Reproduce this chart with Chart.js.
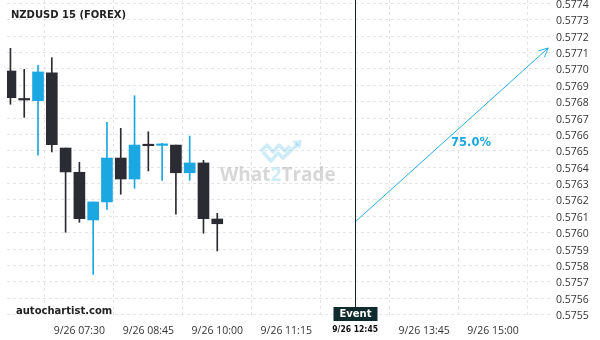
<!DOCTYPE html>
<html>
<head>
<meta charset="utf-8">
<script src="https://cdn.jsdelivr.net/npm/chart.js@4.4.1/dist/chart.umd.min.js"></script>
<style>
  html, body { margin: 0; padding: 0; background: #fff; }
  #wrap { width: 600px; height: 340px; position: relative; }
</style>
</head>
<body>
<div id="wrap"><canvas id="chart"></canvas></div>
<script>
// NZDUSD 15 min candles (index 0 = 9/26 06:15)
const opens  = [0.576987, 0.576810, 0.576806, 0.576975, 0.576517, 0.576369, 0.576078, 0.576188,
                0.576456, 0.576328, 0.576531, 0.576533, 0.576535, 0.576366, 0.576426, 0.576084];
const highs  = [0.577125, 0.576997, 0.577022, 0.577068, 0.576517, 0.576430, 0.576188, 0.576674,
                0.576637, 0.576836, 0.576616, 0.576546, 0.576535, 0.576590, 0.576442, 0.576119];
const lows   = [0.576784, 0.576704, 0.576473, 0.576493, 0.576003, 0.576064, 0.575746, 0.576143,
                0.576235, 0.576271, 0.576377, 0.576320, 0.576114, 0.576320, 0.575997, 0.575889];
const closes = [0.576824, 0.576810, 0.576981, 0.576537, 0.576371, 0.576086, 0.576188, 0.576456,
                0.576328, 0.576535, 0.576531, 0.576533, 0.576366, 0.576426, 0.576086, 0.576055];
// doji colours can't be told from open/close, so keep the direction too
const bullish = [false, false, true, false, false, false, true, true,
                 false, true, false, true, false, true, false, false];

// forecast arrow (event candle -> target)
const arrowIdx = [25, 39];
const arrowVal = [0.576066, 0.577127];
const eventIdx = 25;
const probability = '75.0%';

// axes
const xTickIdx = [5, 10, 15, 20, 25, 30, 35];
const xTickLabels = ['9/26 07:30', '9/26 08:45', '9/26 10:00', '9/26 11:15', '9/26 12:45', '9/26 13:45', '9/26 15:00'];
const yTicks = [0.5755, 0.5756, 0.5757, 0.5758, 0.5759, 0.5760, 0.5761, 0.5762, 0.5763, 0.5764,
                0.5765, 0.5766, 0.5767, 0.5768, 0.5769, 0.5770, 0.5771, 0.5772, 0.5773, 0.5774];

const BULL = '#1ba7e1';
const BEAR = '#2b2b34';
const FONT = '"Open Sans", "Noto Sans", sans-serif';
const BOLD = '"DejaVu Sans", sans-serif';

const candleColors = bullish.map(b => b ? BULL : BEAR);
const wickData = opens.map((o, i) => ({ x: i, y: [lows[i], highs[i]] }));
const bodyData = opens.map((o, i) => ({ x: i, y: [o, closes[i]] }));

const decorations = {
    id: 'decorations',
    beforeDatasetsDraw(chart) {
        const ctx = chart.ctx;
        // What2Trade watermark
        ctx.save();
        ctx.strokeStyle = 'rgba(27,167,225,0.22)';
        ctx.lineWidth = 3.5;
        ctx.lineJoin = 'round';
        ctx.beginPath();
        ctx.moveTo(261, 151); ctx.lineTo(267, 145); ctx.lineTo(273, 152); ctx.lineTo(279, 145);
        ctx.lineTo(285, 151); ctx.lineTo(290, 146);
        ctx.moveTo(263, 152); ctx.lineTo(271, 161); ctx.lineTo(278, 153); ctx.lineTo(283, 158); ctx.lineTo(298, 144);
        ctx.stroke();
        ctx.fillStyle = 'rgba(27,167,225,0.22)';
        ctx.beginPath();
        ctx.moveTo(302, 140); ctx.lineTo(292, 141); ctx.lineTo(300, 149); ctx.closePath();
        ctx.fill();
        ctx.font = 'bold 19px ' + FONT;
        ctx.textBaseline = 'alphabetic';
        ctx.textAlign = 'left';
        let x = 220;
        ctx.fillStyle = 'rgba(150,150,150,0.38)';
        ctx.fillText('What', x, 181); x += ctx.measureText('What').width;
        ctx.fillStyle = 'rgba(27,167,225,0.22)';
        ctx.fillText('2', x, 181); x += ctx.measureText('2').width;
        ctx.fillStyle = 'rgba(150,150,150,0.38)';
        ctx.fillText('Trade', x, 181);
        ctx.restore();
    },
    afterDraw(chart) {
        const ctx = chart.ctx;
        const xs = chart.scales.x, ys = chart.scales.y;
        ctx.save();

        // event line
        const ex = Math.round(xs.getPixelForValue(eventIdx)) + 0.5;
        ctx.strokeStyle = '#0f2426';
        ctx.lineWidth = 1;
        ctx.beginPath();
        ctx.moveTo(ex, 0); ctx.lineTo(ex, 308);
        ctx.stroke();

        // event box
        ctx.fillStyle = '#0f2b2d';
        ctx.fillRect(ex - 22, 307, 44, 14);
        ctx.fillStyle = '#ffffff';
        ctx.font = 'bold 10px ' + BOLD;
        ctx.textAlign = 'center';
        ctx.textBaseline = 'middle';
        ctx.fillText('Event', ex, 314.5);

        // arrow head
        const pts = chart.getDatasetMeta(2).data;
        const p0 = pts[0], p1 = pts[1];
        const ang = Math.atan2(p1.y - p0.y, p1.x - p0.x);
        ctx.strokeStyle = '#29abe2';
        ctx.lineWidth = 1;
        ctx.beginPath();
        ctx.moveTo(p1.x - 10 * Math.cos(ang - 0.45), p1.y - 10 * Math.sin(ang - 0.45));
        ctx.lineTo(p1.x, p1.y);
        ctx.lineTo(p1.x - 10 * Math.cos(ang + 0.45), p1.y - 10 * Math.sin(ang + 0.45));
        ctx.stroke();

        // probability label
        ctx.fillStyle = '#1ba7e1';
        ctx.font = 'bold 11.5px ' + BOLD;
        ctx.textAlign = 'center';
        ctx.fillText(probability, xs.getPixelForValue(33.4), ys.getPixelForValue(0.576546));

        // title and site
        ctx.fillStyle = '#222';
        ctx.textAlign = 'left';
        ctx.font = 'bold 10px ' + BOLD;
        ctx.fillText('NZDUSD 15 (FOREX)', 11, 15);
        ctx.fillText('autochartist.com', 16, 311);
        ctx.restore();
    }
};

new Chart(document.getElementById('chart'), {
    type: 'bar',
    data: {
        datasets: [
            {
                label: 'wicks',
                data: wickData,
                backgroundColor: candleColors,
                barThickness: 1,
                grouped: false,
                order: 2
            },
            {
                label: 'bodies',
                data: bodyData,
                backgroundColor: candleColors,
                barThickness: 11,
                minBarLength: 1.5,
                grouped: false,
                order: 1
            },
            {
                type: 'line',
                label: 'forecast',
                data: arrowIdx.map((x, i) => ({ x: x, y: arrowVal[i] })),
                borderColor: '#29abe2',
                borderWidth: 1,
                pointRadius: 0,
                order: 0
            }
        ]
    },
    options: {
        responsive: true,
        maintainAspectRatio: false,
        animation: false,
        layout: { padding: { left: 7, top: 0, right: 0, bottom: 0 } },
        plugins: {
            legend: { display: false },
            tooltip: { enabled: false }
        },
        scales: {
            x: {
                type: 'linear',
                min: -0.25,
                max: 39.35,
                offset: false,
                afterBuildTicks: scale => { scale.ticks = xTickIdx.map(v => ({ value: v })); },
                afterFit: scale => { scale.height = 22; scale.paddingLeft = 0; scale.paddingRight = 0; },
                grid: { color: '#e4e4e4', drawTicks: false },
                border: { display: false, dash: [3, 3] },
                ticks: {
                    autoSkip: false,
                    maxRotation: 0,
                    padding: 7,
                    font: c => c.index === 4
                        ? { family: '"DejaVu Sans Condensed", "DejaVu Sans", sans-serif', size: 8.5, weight: 'bold' }
                        : { family: FONT, size: 10.5, weight: 'normal' },
                    color: c => c.index === 4 ? '#111' : '#333',
                    callback: (v, i) => xTickLabels[i]
                }
            },
            y: {
                position: 'right',
                min: 0.57548,
                max: 0.57742,
                afterBuildTicks: scale => { scale.ticks = yTicks.map(v => ({ value: v })); },
                afterFit: scale => { scale.width = 47; scale.paddingTop = 0; scale.paddingBottom = 0; },
                grid: { color: '#e4e4e4', drawTicks: false },
                border: { display: false, dash: [3, 3] },
                ticks: {
                    padding: 3,
                    labelOffset: 1.5,
                    font: { family: FONT, size: 10.5 },
                    color: '#333',
                    callback: v => v.toFixed(4)
                }
            }
        }
    },
    plugins: [decorations]
});
</script>
</body>
</html>
